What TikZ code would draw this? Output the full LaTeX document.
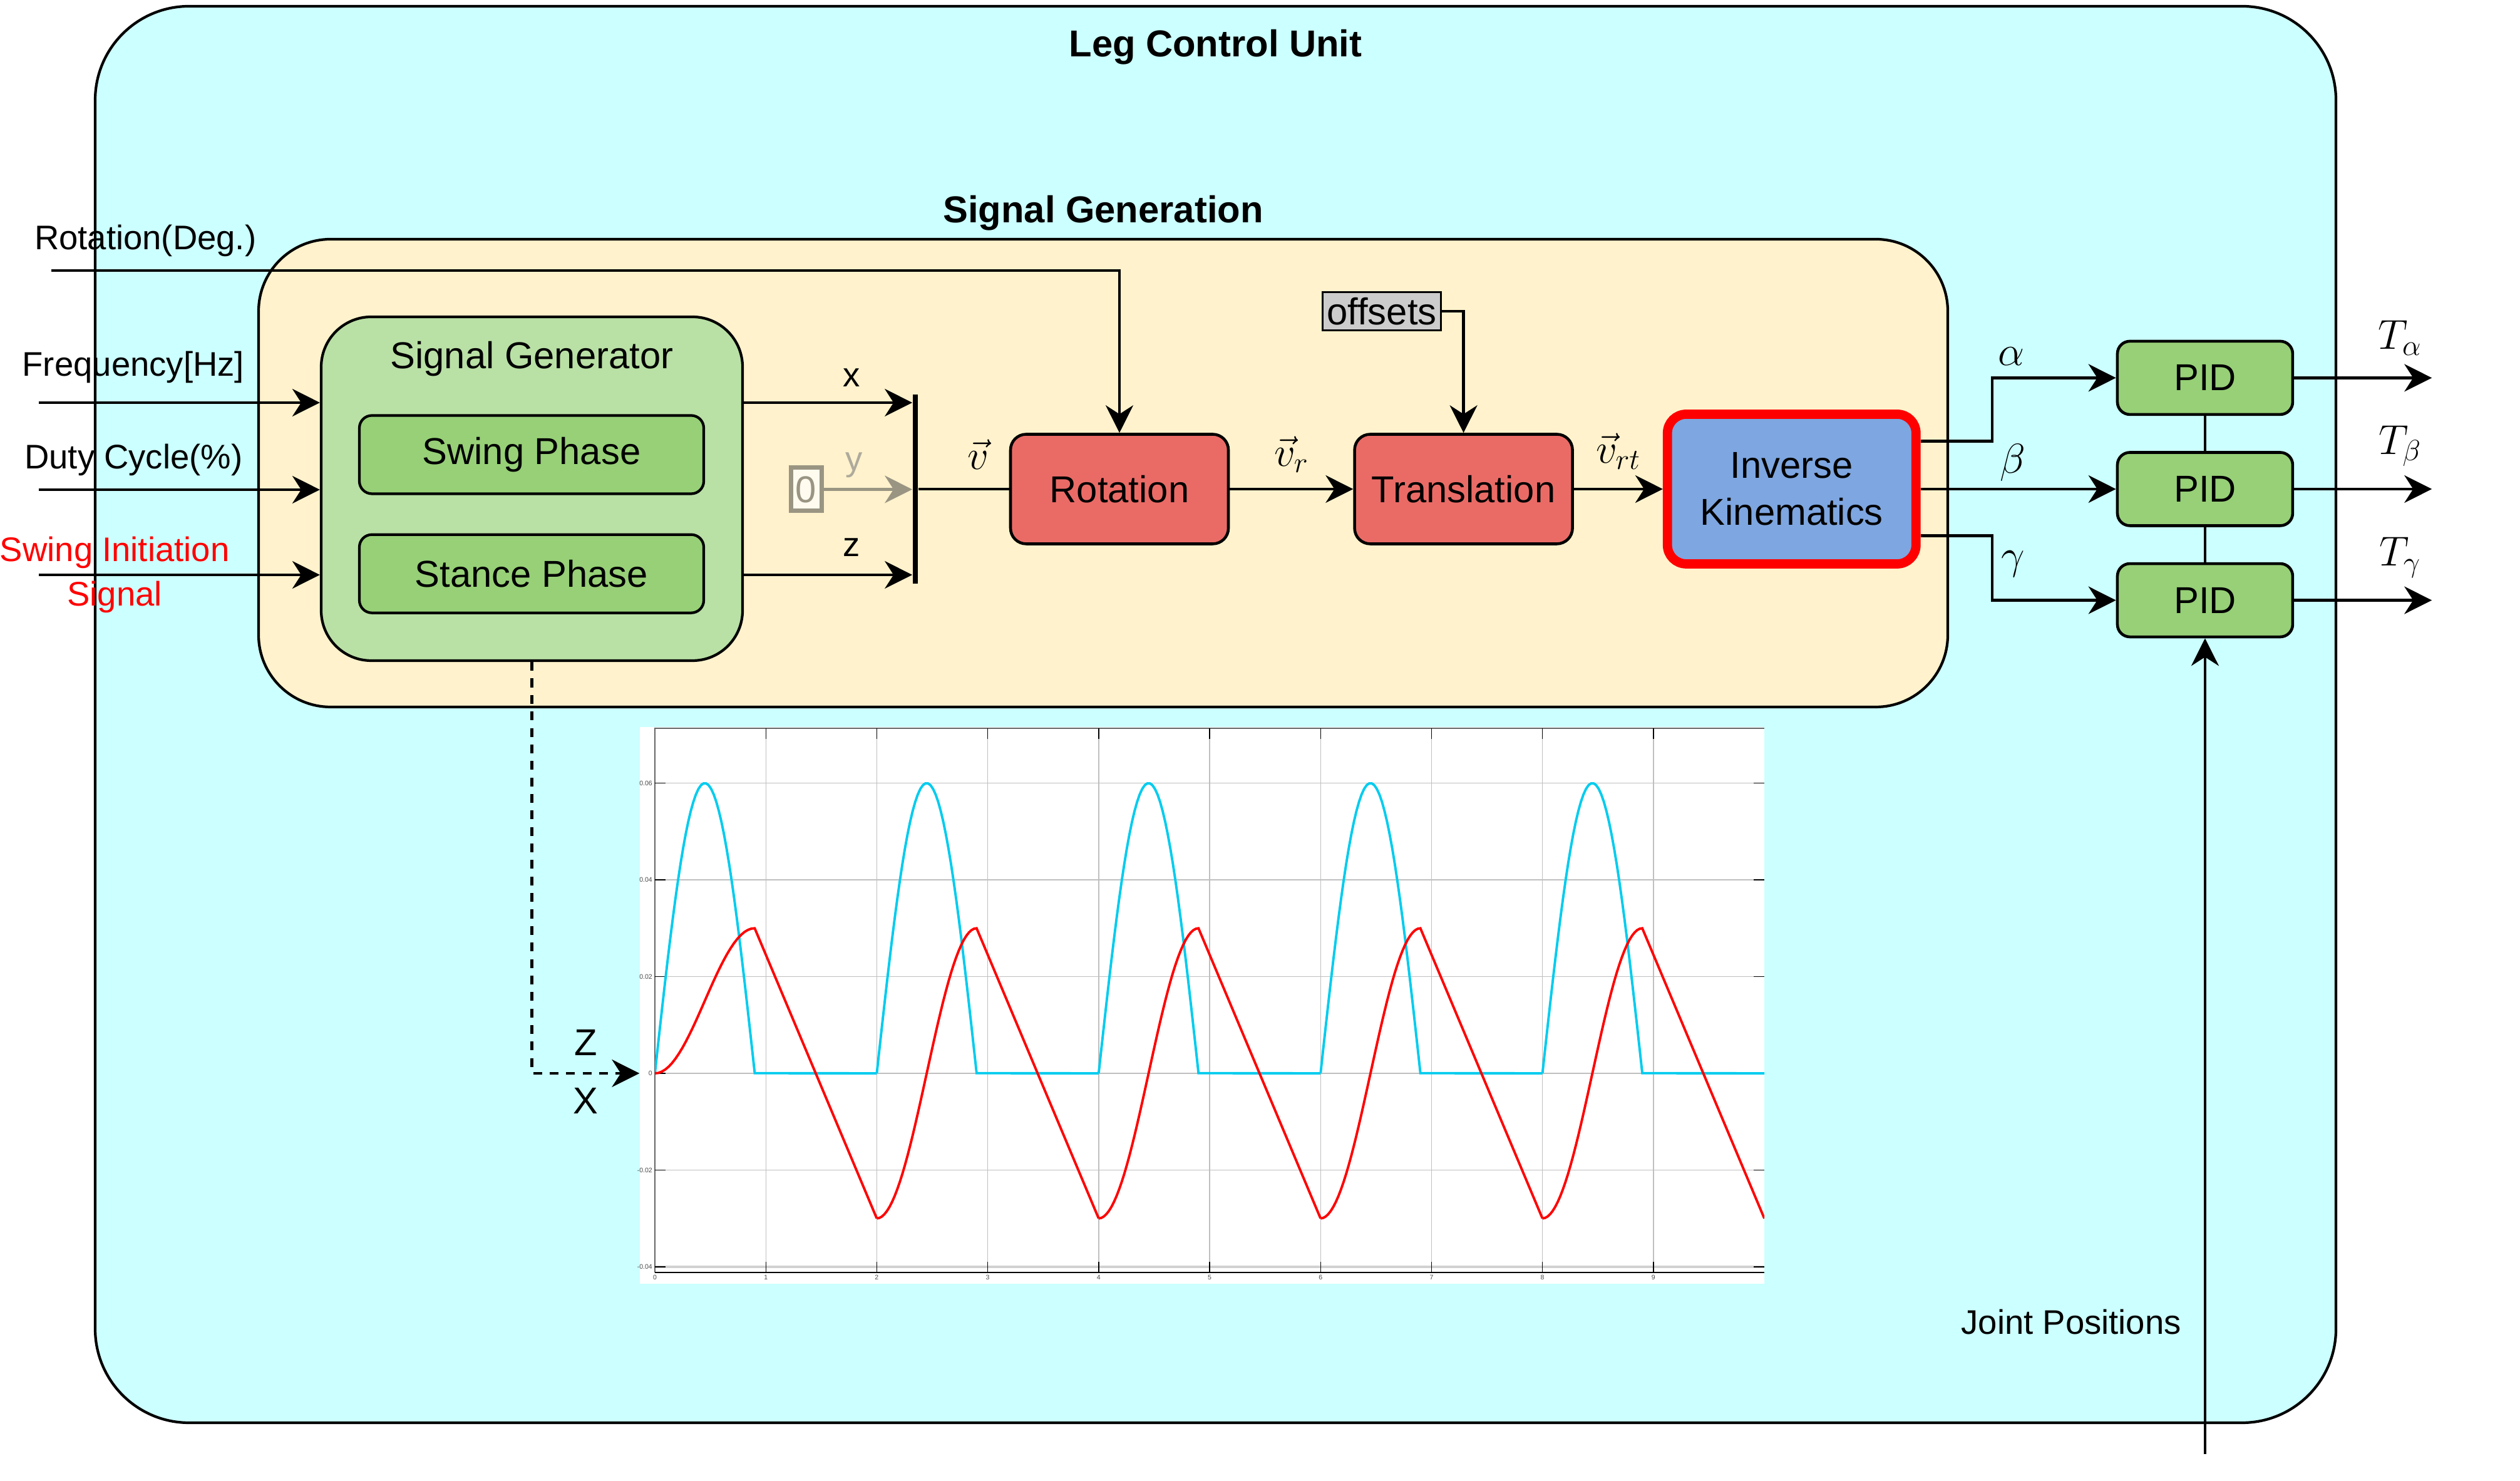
\RequirePackage{fix-cm}
\documentclass[tikz,border=0pt]{standalone}
\usepackage{fontspec}
\setmainfont{Liberation Sans}
\usetikzlibrary{arrows.meta,positioning}

\definecolor{unitcyan}{HTML}{CCFFFF}
\definecolor{gencream}{HTML}{FFF2CC}
\definecolor{genlight}{HTML}{B9E0A5}
\definecolor{phasegreen}{HTML}{97D077}
\definecolor{blockred}{HTML}{EA6B66}
\definecolor{ikblue}{HTML}{7EA6E0}
\definecolor{offgray}{HTML}{CCCCCC}
\definecolor{zerogray}{HTML}{9A9583}
\definecolor{zerofill}{HTML}{FFFBEF}
\definecolor{zblue}{HTML}{00CCEE}

\newcommand{\lblsize}{\fontsize{15.5}{20}\selectfont}
\newcommand{\boxsize}{\fontsize{17}{21.3}\selectfont}
\newcommand{\mathsize}{\fontsize{19}{22}\selectfont}
\newcommand{\ticksize}{\fontsize{3}{3.6}\selectfont}

\tikzset{unit box/.style={draw,line width=1.2pt,rounded corners=1.5cm,fill=unitcyan,inner sep=0pt},
  area box/.style={draw,line width=1.2pt,rounded corners=1.15cm,fill=gencream,inner sep=0pt},
  gen box/.style={draw,line width=1.2pt,rounded corners=0.8cm,fill=genlight,inner sep=0pt},
  phase box/.style={draw,line width=1.2pt,rounded corners=0.2cm,fill=phasegreen,minimum width=5.5cm,minimum height=1.25cm,font=\boxsize},
  block/.style={draw,line width=1.3pt,rounded corners=0.25cm,fill=blockred,minimum width=3.48cm,minimum height=1.75cm,font=\boxsize},
  ik block/.style={draw=red,line width=4.2pt,rounded corners=0.3cm,fill=ikblue,minimum width=3.97cm,minimum height=2.39cm,align=center,font=\boxsize},
  pid box/.style={draw,line width=1.3pt,rounded corners=0.2cm,fill=phasegreen,minimum width=2.8cm,minimum height=1.17cm,font=\boxsize},
  offset box/.style={draw,line width=1.1pt,fill=offgray,minimum width=1.89cm,minimum height=0.61cm,inner sep=0pt,font=\boxsize},
  zero box/.style={draw=zerogray,line width=2pt,fill=zerofill,text=zerogray,minimum width=0.49cm,minimum height=0.69cm,inner sep=0pt,font=\boxsize},
  mux bar/.style={fill=black,inner sep=0pt,minimum width=2.4pt},
  unit title/.style={font=\boxsize\bfseries},
  lbl/.style={font=\lblsize,inner sep=2pt},
  mlbl/.style={font=\mathsize,inner sep=2pt},
  tick lbl/.style={font=\ticksize,text=black!70,inner sep=1pt},
  grid line/.style={line width=0.4pt,black!25},
  z curve/.style={line width=1.1pt,zblue},
  x curve/.style={line width=1.1pt,red},}
\tikzstyle{arrow} = [line width=1.2pt,-{Stealth[length=12.5pt,width=12.5pt,inset=4pt]}]
\tikzstyle{wire} = [line width=1.2pt]

\begin{document}
\begin{tikzpicture}
    \useasboundingbox (0,0) rectangle (40.25,23.65);

    % containers
    \node[unit box,minimum width=35.79cm,minimum height=22.62cm] (legunit) at (19.415,12.24) {};
    \node[unit title] at ([yshift=-0.67cm]legunit.north) {Leg Control Unit};
    \node[area box,minimum width=26.98cm,minimum height=7.47cm] (sigarea) at (17.62,16.095) {};
    \node[unit title] at ([yshift=0.4cm]sigarea.north) {Signal Generation};

    % signal generator
    \node[gen box,minimum width=6.73cm,minimum height=5.49cm] (siggen) at (8.495,15.845) {};
    \node[font=\boxsize] at ([yshift=-0.69cm]siggen.north) {Signal Generator};
    \node[phase box] (swing) at (8.49,16.39) {Swing Phase};
    \node[phase box] (stance)[below=0.61cm of swing] {Stance Phase};

    % trajectory plot
    \node[fill=white,minimum width=17.96cm,minimum height=8.89cm,inner sep=0pt] (trajplot) at (19.2,7.595) {};
    \coordinate (plotzero) at (10.46,6.51);
    \begin{scope}[shift={(plotzero)},x=1.772cm,y=77.25cm]
        \foreach \t in {1,...,9}
            \draw[grid line] (\t,-0.0412) -- (\t,0.0713);
        \foreach \v in {-0.04,-0.02,0,0.02,0.04,0.06}
            \draw[grid line] (0,\v) -- (10,\v);
        \draw[line width=1.2pt,black!18] (0,-0.04) -- (10,-0.04);
        \draw[line width=0.5pt,black!60] (0,-0.0412) -- (0,0.0713) -- (10,0.0713);
        \draw[line width=0.6pt] (0,-0.0412) -- (10,-0.0412);
        \foreach \t in {1,...,9} {
            \draw[line width=0.4pt] (\t,-0.0412) -- ++(0,4.8pt);
            \draw[line width=0.4pt] (\t,0.0713) -- ++(0,-4.8pt);
        }
        \foreach \v/\vl in {0.06/0.06,0.04/0.04,0.02/0.02,0/0,-0.02/-0.02,-0.04/-0.04} {
            \draw[line width=0.4pt] (0,\v) -- ++(4.8pt,0);
            \draw[line width=0.4pt] (10,\v) -- ++(-4.8pt,0);
            \node[tick lbl,anchor=east] at (0,\v) {\vl};
        }
        \foreach \t in {0,...,9}
            \node[tick lbl,anchor=north] at (\t,-0.0412) {\t};
        \begin{scope}
            \clip (0,-0.0412) rectangle (10,0.0713);
            \foreach \k in {0,2,4,6,8}
                \draw[z curve] plot[domain=\k:\k+0.9,samples=40] (\x,{0.06*sin(200*(\x-\k))}) -- (\k+2,0);
            \draw[x curve] plot[domain=0:0.9,samples=30] (\x,{0.015*(1-cos(200*\x))}) -- (2,-0.03);
            \foreach \k in {2,4,6,8}
                \draw[x curve] plot[domain=\k:\k+0.9,samples=40] (\x,{-0.03*cos(200*(\x-\k))}) -- (\k+2,-0.03);
        \end{scope}
    \end{scope}

    % processing chain
    \node[mux bar,minimum height=3.02cm] (mux) at (14.62,15.84) {};
    \node[zero box] (zero) at (12.875,15.835) {0};
    \node[block] (rotation) at (17.88,15.84) {Rotation};
    \node[block] (translation)[right=1.97cm of rotation] {Translation};
    \node[ik block] (ik)[right=1.42cm of translation] {Inverse\\Kinematics};
    \node[offset box] (offsets) at (22.07,18.68) {offsets};
    \node[pid box] (pid2)[right=3.12cm of ik] {PID};
    \node[pid box] (pid1)[above=0.56cm of pid2] {PID};
    \node[pid box] (pid3)[below=0.56cm of pid2] {PID};

    % inputs
    \coordinate (rotin) at (0.82,19.33);
    \coordinate (freqin) at (0.62,17.22);
    \coordinate (dutyin) at (0.62,15.83);
    \coordinate (swingin) at (0.62,14.47);
    \draw [arrow] (rotin) -| node[lbl,pos=0.044,above=0.13cm] {Rotation(Deg.)} (rotation.north);
    \draw [arrow] (freqin) -- node[lbl,pos=0.336,above=0.22cm] {Frequency[Hz]} (freqin -| siggen.west);
    \draw [arrow] (dutyin) -- node[lbl,pos=0.337,above=0.13cm] {Duty Cycle(\%)} (dutyin -| siggen.west);
    \draw [arrow] (swingin) -- node[lbl,pos=0.27,align=center,text=red] {Swing Initiation\\Signal} (swingin -| siggen.west);

    % signal vector
    \draw [arrow] (siggen.east |- freqin) -- node[lbl,pos=0.64,above=0.16cm] {x} (mux.west |- freqin);
    \draw [arrow] (siggen.east |- swingin) -- node[lbl,pos=0.64,above=0.2cm] {z} (mux.west |- swingin);
    \draw [arrow,zerogray] (zero.east) -- node[lbl,pos=0.34,above=0.1cm,text=zerogray!80] {y} (zero.east -| mux.west);
    \node[mux bar,minimum height=3.02cm] at (mux) {};
    \draw [wire] (mux.east |- rotation.west) -- node[mlbl,pos=0.66,above=0.22cm] {$\vec{v}$} (rotation.west);
    \draw [arrow] (rotation.east) -- node[mlbl,pos=0.5,above=0.17cm] {$\vec{v}_r$} (translation.west);
    \draw [arrow] (offsets.east) -| (translation.north);
    \draw [arrow] (translation.east) -- node[mlbl,pos=0.5,above=0.22cm] {$\vec{v}_{rt}$} (ik.west);

    % joint angles to PID
    \draw [arrow] ([yshift=0.765cm]ik.east) -- ++(1.14,0) |- node[mlbl,pos=0.578,above=0.11cm] {$\alpha$} (pid1.west);
    \draw [arrow] (ik.east) -- node[mlbl,pos=0.47,above=0.03cm] {$\beta$} (pid2.west);
    \draw [arrow] ([yshift=-0.745cm]ik.east) -- ++(1.14,0) |- node[mlbl,pos=0.22,right=0.06cm] {$\gamma$} (pid3.west);
    \draw [line width=1pt] (pid1.south) -- (pid2.north);
    \draw [line width=1pt] (pid2.south) -- (pid3.north);

    % torques
    \coordinate[right=2.2cm of pid1] (talpha);
    \coordinate[right=2.2cm of pid2] (tbeta);
    \coordinate[right=2.2cm of pid3] (tgamma);
    \draw [arrow] (pid1.east) -- node[mlbl,pos=0.77,above=0.27cm] {$T_\alpha$} (talpha);
    \draw [arrow] (pid2.east) -- node[mlbl,pos=0.77,above=0.27cm] {$T_\beta$} (tbeta);
    \draw [arrow] (pid3.east) -- node[mlbl,pos=0.77,above=0.27cm] {$T_\gamma$} (tgamma);

    % feedback
    \coordinate (jointin) at (pid3.south |- 0,0.43);
    \draw [arrow] (jointin) -- node[lbl,pos=0.162,left=0.29cm] {Joint Positions} (pid3.south);

    % link to plot
    \draw [arrow,dash pattern=on 4pt off 3.5pt] (siggen.south) |- node[font=\boxsize,pos=0.75,above=0.19cm,inner sep=2pt] {Z} node[font=\boxsize,pos=0.75,below=0.14cm,inner sep=2pt] {X} (trajplot.west |- plotzero);
\end{tikzpicture}
\end{document}
